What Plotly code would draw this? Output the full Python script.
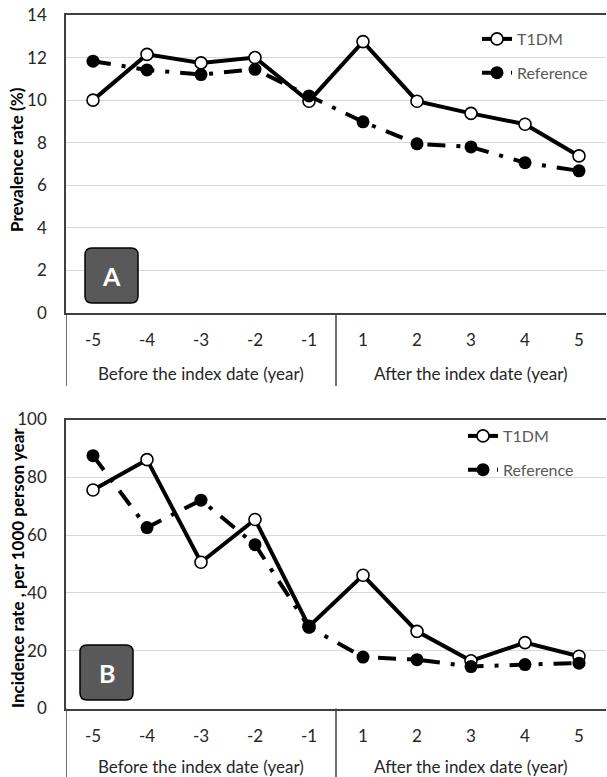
import plotly.graph_objects as go

categories = ["-5", "-4", "-3", "-2", "-1", "1", "2", "3", "4", "5"]
groups = ["Before the index date (year)", "After the index date (year)"]

prev_t1dm = [10.0, 12.15, 11.75, 12.0, 9.95, 12.75, 9.95, 9.38, 8.87, 7.38]
prev_ref = [11.83, 11.42, 11.2, 11.45, 10.2, 8.98, 7.95, 7.8, 7.06, 6.68]

inc_t1dm = [75.6, 86.1, 50.6, 65.4, 28.4, 46.1, 26.7, 16.5, 22.8, 18.1]
inc_ref = [87.5, 62.6, 72.1, 56.7, 28.1, 17.8, 16.9, 14.5, 15.2, 15.7]

W, H = 607, 777
FONT = "Lato"
TXT = "#262626"

fig = go.Figure()

def add_pair(t1, rf, xa, ya, leg):
    fig.add_trace(go.Scatter(
        x=categories, y=t1, name="T1DM", mode="lines+markers",
        line=dict(color="black", width=4),
        marker=dict(symbol="circle", size=12, color="white",
                    line=dict(color="black", width=1.6)),
        xaxis=xa, yaxis=ya, legend=leg, legendgroup=leg + "a"))
    fig.add_trace(go.Scatter(
        x=categories, y=rf, name="Reference", mode="lines+markers",
        line=dict(color="black", width=4, dash="18px,11px,4px,11px"),
        marker=dict(symbol="circle", size=13, color="black"),
        xaxis=xa, yaxis=ya, legend=leg, legendgroup=leg + "b"))

add_pair(prev_t1dm, prev_ref, "x", "y", "legend")
add_pair(inc_t1dm, inc_ref, "x2", "y2", "legend2")

xl, xr = 66 / W, 606 / W
domA = [(H - 313) / H, (H - 15) / H]
domB = [(H - 708.5) / H, (H - 419.5) / H]

xcommon = dict(type="category", range=[-0.5, 9.5], showline=True, linecolor="#404040",
               linewidth=1.5, mirror=True, showgrid=False, ticks="", automargin=False,
               tickfont=dict(family=FONT, size=17, color=TXT), ticklabelstandoff=11,
               domain=[xl, xr], fixedrange=True)
ycommon = dict(showline=True, linecolor="#404040", linewidth=1.5, showgrid=True,
               gridcolor="#d9d9d9", gridwidth=1.2, zeroline=False, ticks="", automargin=False,
               tickfont=dict(family=FONT, size=17, color=TXT), ticklabelstandoff=14,
               fixedrange=True)

fig.update_layout(
    width=W, height=H, margin=dict(l=0, r=0, t=0, b=0, autoexpand=False),
    paper_bgcolor="white", plot_bgcolor="white", showlegend=True,
    xaxis=dict(xcommon, anchor="y"),
    yaxis=dict(ycommon, domain=domA, range=[0, 14], dtick=2, anchor="x"),
    xaxis2=dict(xcommon, anchor="y2"),
    yaxis2=dict(ycommon, domain=domB, range=[0, 100], dtick=20, anchor="x2"),
    legend=dict(x=477 / W, y=(H - 22) / H, xanchor="left", yanchor="top",
                bgcolor="rgba(0,0,0,0)", font=dict(family=FONT, size=16, color="#595959"),
                tracegroupgap=10, itemwidth=30),
    legend2=dict(x=463 / W, y=(H - 419) / H, xanchor="left", yanchor="top",
                 bgcolor="rgba(0,0,0,0)", font=dict(family=FONT, size=16, color="#595959"),
                 tracegroupgap=10, itemwidth=30),
)

shapes = []
annotations = []
panels = [("x", "y", 313, 386, 160, "Prevalence rate (%)", 373, "A", (85, 138, 248, 303)),
          ("x2", "y2", 708.5, 777, 568, "Incidence rate , per 1000 person year", 766, "B", (80, 133, 645, 700))]
for xa, ya, ybot, yend, ytitle, title, ygroup, letter, box in panels:
    for xv in (-0.5, 4.5):
        shapes.append(dict(type="line", xref=xa, yref="paper", x0=xv, x1=xv,
                           y0=(H - ybot) / H, y1=(H - yend) / H,
                           line=dict(color="#404040", width=1.5)))
    for gi, g in enumerate(groups):
        annotations.append(dict(text=g, xref=xa, yref="paper", x=2 + 5 * gi, y=(H - ygroup) / H,
                                showarrow=False, xanchor="center", yanchor="middle",
                                font=dict(family=FONT, size=17, color=TXT)))
    annotations.append(dict(text=title, xref="paper", yref="paper", x=17 / W, y=(H - ytitle) / H,
                            textangle=-90, showarrow=False, xanchor="center", yanchor="middle",
                            font=dict(family=FONT, size=17, color="black", weight="bold")))
    x0, x1, yt, yb = box
    r = 7
    X0, X1 = x0, x1
    Y0, Y1 = H - yb, H - yt
    path = (f"M{X0+r},{Y0} L{X1-r},{Y0} Q{X1},{Y0} {X1},{Y0+r} L{X1},{Y1-r} Q{X1},{Y1} {X1-r},{Y1} "
            f"L{X0+r},{Y1} Q{X0},{Y1} {X0},{Y1-r} L{X0},{Y0+r} Q{X0},{Y0} {X0+r},{Y0} Z")
    shapes.append(dict(type="path", xref="paper", yref="paper", xsizemode="pixel", ysizemode="pixel",
                       xanchor=0, yanchor=0, path=path, fillcolor="#595959",
                       line=dict(color="black", width=1.5)))
    annotations.append(dict(text=letter, xref="paper", yref="paper", x=(x0 + x1) / 2 / W,
                            y=(H - (yt + yb) / 2) / H, showarrow=False, xanchor="center",
                            yanchor="middle", font=dict(family=FONT, size=25, color="white", weight="bold")))

fig.update_layout(shapes=shapes, annotations=annotations)
fig.write_html("out.html")
